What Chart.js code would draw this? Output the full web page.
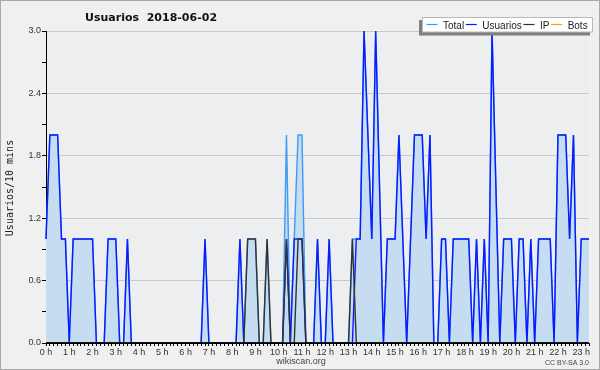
<!DOCTYPE html>
<html><head><meta charset="utf-8">
<script src="https://cdn.jsdelivr.net/npm/chart.js@4.4.0/dist/chart.umd.min.js"></script>
<style>html,body{margin:0;padding:0;background:#f0f0f0}#wrap{width:600px;height:370px}</style>
</head><body><div id="wrap"><canvas id="c" width="600" height="370"></canvas></div>
<script>
// categories: 10-minute slots from 0:00 to 23:20
const times = [];
for (let i = 0; i <= 140; i++) { const h = Math.floor(i / 6), m = (i % 6) * 10; times.push(h + ':' + (m < 10 ? '0' : '') + m); }

const hourLabels = ['0 h','1 h','2 h','3 h','4 h','5 h','6 h','7 h','8 h','9 h','10 h','11 h','12 h','13 h','14 h','15 h','16 h','17 h','18 h','19 h','20 h','21 h','22 h','23 h'];
const yTickLabels = ['0.0','0.6','1.2','1.8','2.4','3.0'];
const yTickValues = [0,0.3,0.6,0.9,1.2,1.5,1.8,2.1,2.4,2.7,3.0];

const total = [
  1,2,2,2,1,1,0,1,1,1,1,1,
  1,0,0,0,1,1,1,0,0,1,0,0,
  0,0,0,0,0,0,0,0,0,0,0,0,
  0,0,0,0,0,1,0,0,0,0,0,0,
  0,0,1,0,1,1,1,0,0,1,0,0,
  0,0,2,0,1,2,2,0,0,0,1,0,
  0,1,0,0,0,0,0,1,1,1,3,2,
  1,3,1.5,0,1,1,1,2,1,0,1,2,
  2,2,1,2,0,0,1,1,0,1,1,1,
  1,1,0,1,0,1,0,3,1.5,0,1,1,
  1,0,1,1,0,1,0,1,1,1,1,0,
  2,2,2,1,2,0,1,1,1
];
const usuarios = [
  1,2,2,2,1,1,0,1,1,1,1,1,
  1,0,0,0,1,1,1,0,0,1,0,0,
  0,0,0,0,0,0,0,0,0,0,0,0,
  0,0,0,0,0,1,0,0,0,0,0,0,
  0,0,1,0,0,0,0,0,0,0,0,0,
  0,0,1,0,1,1,1,0,0,0,1,0,
  0,1,0,0,0,0,0,0,1,1,3,2,
  1,3,1.5,0,1,1,1,2,1,0,1,2,
  2,2,1,2,0,0,1,1,0,1,1,1,
  1,1,0,1,0,1,0,3,1.5,0,1,1,
  1,0,1,1,0,1,0,1,1,1,1,0,
  2,2,2,1,2,0,1,1,1
];
const ip = [
  0,0,0,0,0,0,0,0,0,0,0,0,
  0,0,0,0,0,0,0,0,0,0,0,0,
  0,0,0,0,0,0,0,0,0,0,0,0,
  0,0,0,0,0,0,0,0,0,0,0,0,
  0,0,0,0,1,1,1,0,0,1,0,0,
  0,0,1,0,0,1,1,0,0,0,0,0,
  0,0,0,0,0,0,0,1,0,0,0,0,
  0,0,0,0,0,0,0,0,0,0,0,0,
  0,0,0,0,0,0,0,0,0,0,0,0,
  0,0,0,0,0,0,0,0,0,0,0,0,
  0,0,0,0,0,0,0,0,0,0,0,0,
  0,0,0,0,0,0,0,0,0
];
const bots = new Array(141).fill(0);

const seriesNames = ['Total','Usuarios','IP','Bots'];
const seriesColors = ['#3d9bf5','#0a1aff','#333333','#ffa500'];

const deco = {
  id: 'deco',
  beforeDraw(chart) {
    const ctx = chart.ctx, a = chart.chartArea;
    ctx.save();
    ctx.fillStyle = '#f0f0f0';
    ctx.fillRect(0, 0, 600, 370);
    ctx.strokeStyle = '#a8a8a8';
    ctx.lineWidth = 1;
    ctx.strokeRect(0.5, 0.5, 599, 369);
    ctx.fillStyle = '#edeef0';
    ctx.fillRect(a.left, a.top, a.right - a.left, a.bottom - a.top);
    ctx.restore();
  },
  afterDraw(chart) {
    const ctx = chart.ctx, a = chart.chartArea;
    ctx.save();
    // re-draw baseline over zero-valued line segments
    ctx.strokeStyle = '#000';
    ctx.lineWidth = 1.6;
    ctx.beginPath(); ctx.moveTo(a.left, a.bottom); ctx.lineTo(a.right, a.bottom); ctx.stroke();
    // title
    ctx.fillStyle = '#111';
    ctx.font = 'bold 11px "DejaVu Sans"';
    ctx.textAlign = 'left';
    ctx.textBaseline = 'alphabetic';
    ctx.fillText('Usuarios  2018-06-02', 85, 21);
    // y axis title
    ctx.save();
    ctx.translate(10, 188);
    ctx.rotate(-Math.PI / 2);
    ctx.font = '10px "DejaVu Sans Mono"';
    ctx.textAlign = 'center';
    ctx.textBaseline = 'middle';
    ctx.fillStyle = '#222';
    ctx.fillText('Usuarios/10 mins', 0, 0);
    ctx.restore();
    // legend
    ctx.fillStyle = '#808080';
    ctx.fillRect(419, 20, 171, 15.5);
    ctx.fillStyle = '#ffffff';
    ctx.fillRect(422, 17, 170.5, 15);
    ctx.strokeStyle = '#b8b8b8';
    ctx.lineWidth = 1;
    ctx.strokeRect(422.5, 17.5, 170, 14.5);
    ctx.font = '10px "Liberation Sans"';
    ctx.textBaseline = 'alphabetic';
    ctx.textAlign = 'left';
    let x = 426.5;
    for (let k = 0; k < seriesNames.length; k++) {
      ctx.strokeStyle = seriesColors[k];
      ctx.lineWidth = 1.2;
      ctx.beginPath(); ctx.moveTo(x, 24.5); ctx.lineTo(x + 11, 24.5); ctx.stroke();
      x += 16.5;
      ctx.fillStyle = '#222';
      ctx.fillText(seriesNames[k], x, 28.5);
      x += ctx.measureText(seriesNames[k]).width + 1.7;
    }
    // footer
    ctx.font = '9px "Liberation Sans"';
    ctx.fillStyle = '#444';
    ctx.textAlign = 'center';
    ctx.fillText('wikiscan.org', 301, 364);
    ctx.font = '7px "Liberation Sans"';
    ctx.textAlign = 'right';
    ctx.fillText('CC BY-SA 3.0', 589, 365);
    ctx.restore();
  }
};

const mk = (label, data, color, order, extra) => Object.assign({
  label, data, borderColor: color, borderWidth: 1.4, pointRadius: 0, tension: 0,
  fill: false, order, clip: { left: 4, right: 4, top: 4, bottom: 0 }
}, extra || {});

new Chart(document.getElementById('c'), {
  type: 'line',
  data: {
    labels: times,
    datasets: [
      mk('Total', total, seriesColors[0], 3, { fill: 'origin', backgroundColor: '#c6dcf0' }),
      mk('Usuarios', usuarios, seriesColors[1], 1),
      mk('IP', ip, seriesColors[2], 0),
      mk('Bots', bots, seriesColors[3], 4)
    ]
  },
  options: {
    responsive: false,
    animation: false,
    devicePixelRatio: 1,
    layout: { padding: { left: 0, right: 11, top: 31, bottom: 10 } },
    plugins: { legend: { display: false }, title: { display: false }, tooltip: { enabled: false } },
    scales: {
      x: {
        type: 'category', offset: false, z: 1,
        grid: { display: true, drawOnChartArea: false, drawTicks: true, tickLength: 3, color: '#000', tickColor: '#000' },
        border: { display: true, color: '#000', width: 1 },
        ticks: {
          autoSkip: false, maxRotation: 0, minRotation: 0, padding: 1, color: '#333',
          font: { family: 'Liberation Sans', size: 9 },
          callback: (v, i) => (i % 6 === 0 ? hourLabels[i / 6] : '')
        },
        afterFit: s => { s.height = 17; }
      },
      y: {
        min: 0, max: 3,
        afterBuildTicks: s => { s.ticks = yTickValues.map(v => ({ value: v })); },
        grid: {
          drawOnChartArea: true, tickLength: 4, tickColor: '#000',
          color: c => (c.index % 2 === 0 ? '#c8c8c8' : 'rgba(0,0,0,0)')
        },
        border: { display: true, color: '#000', width: 1 },
        ticks: {
          padding: 1, color: '#333', font: { family: 'Liberation Sans', size: 9 },
          callback: (v, i) => (i % 2 === 0 ? yTickLabels[i / 2] : '')
        },
        afterFit: s => { s.width = 46; }
      }
    }
  },
  plugins: [deco]
});
</script>
</body></html>
